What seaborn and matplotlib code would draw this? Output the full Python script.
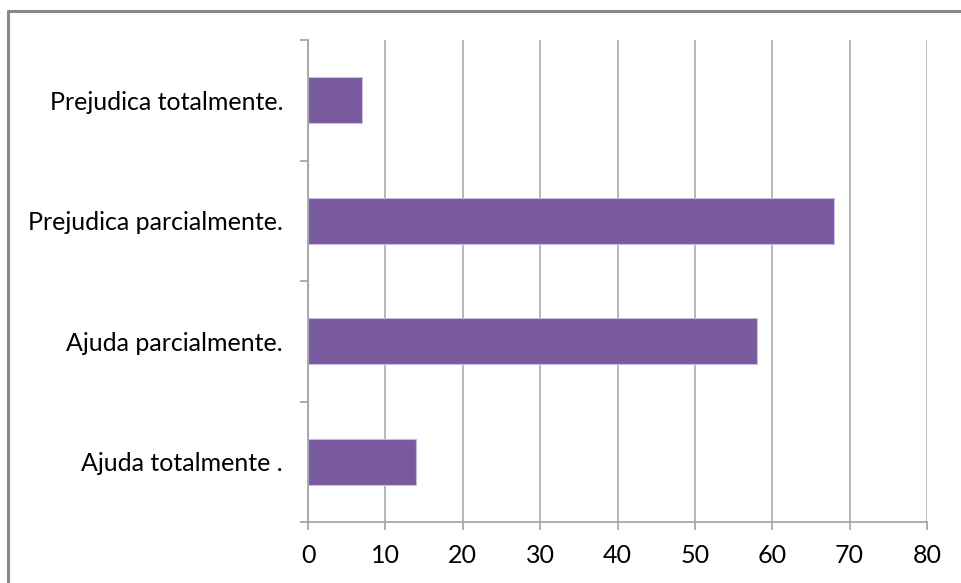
import pandas as pd
import matplotlib.pyplot as plt
import seaborn as sns
from matplotlib.lines import Line2D
from matplotlib.ticker import FixedLocator

categories = ["Prejudica totalmente.", "Prejudica parcialmente.",
              "Ajuda parcialmente.", "Ajuda totalmente ."]
values = [7, 68, 58, 14]
x_ticks = [0, 10, 20, 30, 40, 50, 60, 70, 80]

df = pd.DataFrame({"Resposta": categories, "Valor": values})

sns.set_style("white")
plt.rcParams["font.family"] = ["Lato", "DejaVu Sans"]

fig = plt.figure(figsize=(9.61, 5.83), dpi=100)
ax = fig.add_axes([308 / 961, 1 - 522 / 583, (927 - 308) / 961, (522 - 40) / 583])

sns.barplot(data=df, x="Valor", y="Resposta", orient="h", color="#7A5A9E",
            saturation=1, width=0.38, edgecolor="#CDB8E6", linewidth=0.8, ax=ax)

ax.set_xlim(0, 80)
ax.set_ylim(3.5, -0.5)
ax.set_xticks(x_ticks)
ax.xaxis.grid(True, color="#AAAAAA", linewidth=1.2)
ax.set_axisbelow(True)
ax.set_xlabel("")
ax.set_ylabel("")

for s in ["top", "right"]:
    ax.spines[s].set_visible(False)
for s in ["left", "bottom"]:
    ax.spines[s].set_color("#A0A0A0")
    ax.spines[s].set_linewidth(1.2)

ax.yaxis.set_minor_locator(FixedLocator([-0.5, 0.5, 1.5, 2.5, 3.5]))
ax.tick_params(axis="y", which="major", length=0, pad=18, labelsize=18, labelcolor="#000000")
ax.tick_params(axis="y", which="minor", length=6, width=1.2, color="#A0A0A0", left=True)
ax.tick_params(axis="x", which="major", length=6, width=1.2, color="#A0A0A0",
               bottom=True, pad=10, labelsize=18, labelcolor="#000000")

# gray frame around the chart area
fig.add_artist(Line2D([8 / 961, 8 / 961], [0, 1 - 11 / 583], color="#888888", linewidth=2.2))
fig.add_artist(Line2D([8 / 961, 1], [1 - 11 / 583, 1 - 11 / 583], color="#888888", linewidth=2.2))

fig.savefig("out.png", dpi=100)
